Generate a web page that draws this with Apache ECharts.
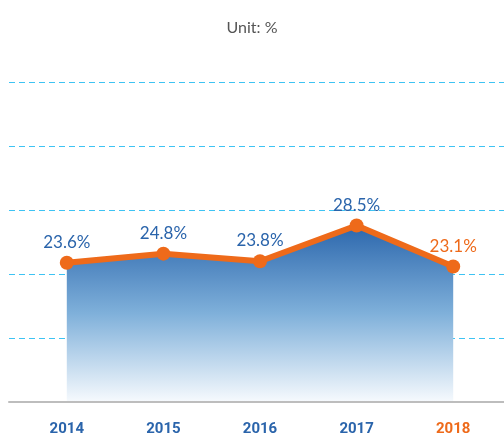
<!DOCTYPE html>
<html>
<head>
<meta charset="utf-8">
<script src="https://cdn.jsdelivr.net/npm/echarts@6/dist/echarts.min.js"></script>
<style>
  html, body { margin: 0; padding: 0; background: #fff; }
  #container { width: 504px; height: 437px; }
</style>
</head>
<body>
<div id="container"></div>
<script>
// chart data
const years = ['2014', '2015', '2016', '2017', '2018'];
const shares = [23.6, 24.8, 23.8, 28.5, 23.1];
const unitText = 'Unit: %';

const BLUE = '#2a64ab';
const ORANGE = '#ee6a1a';

const chart = echarts.init(document.getElementById('container'), null, { renderer: 'canvas' });

const option = {
    animation: false,
    title: {
        text: unitText,
        left: 'center',
        top: 15,
        textStyle: { color: '#555', fontSize: 16, fontWeight: 'normal', fontFamily: 'Lato' }
    },
    grid: [
        // gridlines + baseline
        { left: 9, right: 0, top: 82, bottom: 35 },
        // data
        { left: 18.5, right: 2.5, top: 82, bottom: 35 }
    ],
    xAxis: [
        {
            gridIndex: 0,
            type: 'value',
            min: 0, max: 1,
            axisLine: { show: true, lineStyle: { color: '#bdbdbd', width: 2 } },
            axisTick: { show: false },
            axisLabel: { show: false },
            splitLine: { show: false }
        },
        {
            gridIndex: 1,
            type: 'category',
            data: years,
            axisLine: { show: false },
            axisTick: { show: false },
            axisLabel: {
                margin: 21,
                fontSize: 15,
                fontWeight: 'bold',
                fontFamily: 'Roboto',
                color: function (v, i) { return i === years.length - 1 ? ORANGE : BLUE; }
            }
        }
    ],
    yAxis: [
        {
            gridIndex: 0,
            type: 'value',
            min: 0, max: 5, interval: 1,
            axisLine: { show: false },
            axisTick: { show: false },
            axisLabel: { show: false },
            splitLine: { lineStyle: { color: '#3ec3f3', type: [6, 4], width: 1.2 } }
        },
        {
            gridIndex: 1,
            type: 'value',
            min: 5.4, max: 47.4,
            axisLine: { show: false },
            axisTick: { show: false },
            axisLabel: { show: false },
            splitLine: { show: false }
        }
    ],
    series: [
        {
            type: 'line',
            xAxisIndex: 1,
            yAxisIndex: 1,
            data: shares.map(function (v, i) {
                const last = i === shares.length - 1;
                return { value: v, label: { color: last ? ORANGE : BLUE } };
            }),
            symbol: 'circle',
            symbolSize: 14,
            itemStyle: { color: ORANGE },
            lineStyle: { color: ORANGE, width: 6 },
            areaStyle: {
                origin: 'start',
                opacity: 1,
                color: new echarts.graphic.LinearGradient(0, 0, 0, 1, [
                    { offset: 0, color: '#2c67ad' },
                    { offset: 0.5, color: '#7fb0da' },
                    { offset: 1, color: '#f5f9fd' }
                ])
            },
            label: {
                show: true,
                position: 'top',
                distance: 5,
                fontSize: 17,
                fontFamily: 'Lato',
                formatter: '{c}%'
            },
            z: 3
        }
    ]
};

chart.setOption(option);
window.addEventListener('resize', () => chart.resize());
</script>
</body>
</html>
